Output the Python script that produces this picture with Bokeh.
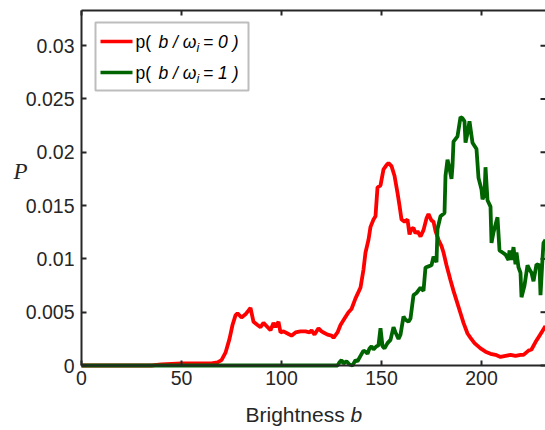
from bokeh.plotting import figure
from bokeh.models import (Range1d, LinearAxis, FixedTicker, Label, BoxAnnotation)
from bokeh.embed import file_html
from bokeh.resources import INLINE

# ---------------- data ----------------
red_x = [0, 35, 40, 50, 60, 65, 68, 70, 72, 74, 75.5, 77, 78, 80, 82, 84.5, 86, 88, 89.5,
         91, 92.5, 94.5, 96, 97, 98.5, 99.5, 101, 103, 105, 107, 109.5, 112, 114, 115,
         116.5, 118.5, 120, 121, 123, 125, 126, 128, 129.5, 131.5, 133.5, 135, 137, 139.5,
         141, 142, 143.5, 144.5, 146, 147, 148, 149.5, 151, 152.5, 153.5, 155, 156.5, 158,
         159, 160, 161.5, 163, 164, 165, 166, 167, 168, 169.5, 171, 172.5, 173.5, 175, 176,
         177, 178.5, 180, 181, 182.5, 184.5, 186, 188, 189.5, 191, 193, 194.5, 196.5, 199.5,
         202, 204.5, 207, 209.5, 212, 214.5, 217, 219.5, 221, 223.5, 225, 227, 229, 231, 232]
red_y = [0, 0, 0.0001, 0.0002, 0.0002, 0.0002, 0.0003, 0.0005, 0.0012, 0.0025, 0.0038,
         0.0047, 0.0049, 0.0045, 0.0048, 0.0054, 0.0041, 0.0038, 0.0036, 0.0040, 0.0037,
         0.0033, 0.0040, 0.0036, 0.0041, 0.0031, 0.0032, 0.0030, 0.0028, 0.0031, 0.0032,
         0.0032, 0.0031, 0.0033, 0.0029, 0.0035, 0.0032, 0.0031, 0.0029, 0.0028, 0.0026,
         0.0031, 0.0038, 0.0044, 0.0050, 0.0053, 0.0063, 0.0073, 0.0090, 0.0106, 0.0118,
         0.0130, 0.0137, 0.0140, 0.0167, 0.0169, 0.0184, 0.0188, 0.0190, 0.0187, 0.0178,
         0.0162, 0.0150, 0.0137, 0.0135, 0.0137, 0.0123, 0.0128, 0.0129, 0.0124, 0.0126,
         0.0121, 0.0127, 0.0138, 0.0142, 0.0136, 0.0135, 0.0126, 0.0118, 0.0112, 0.0106,
         0.0094, 0.0080, 0.0070, 0.0058, 0.0049, 0.0040, 0.0030, 0.0026, 0.0021, 0.0016,
         0.0013, 0.0011, 0.0010, 0.0008, 0.0009, 0.0010, 0.0009, 0.0010, 0.0010, 0.0014,
         0.0015, 0.0022, 0.0028, 0.0034, 0.0037]

green_x = [0, 128, 129, 130, 131, 132.5, 134, 135.5, 137, 138, 139.5, 141, 142, 143, 144,
           145, 146, 147.5, 148.5, 149.5, 150.5, 151.5, 153, 154.5, 156, 157, 158.5, 159.5,
           161, 162, 163.5, 164.5, 166, 167.5, 169.5, 171, 172, 173.5, 175, 176, 177.5, 178,
           179.5, 181.5, 182, 183, 184, 185, 185.5, 186, 188, 189.5, 190.5, 191.5, 192, 193,
           194, 195.5, 197.5, 198.5, 200, 200.5, 201.5, 202, 203, 204.5, 205, 206, 208, 209,
           210.5, 212, 213.5, 214, 215, 216, 217, 217.5, 218.5, 219.5, 220, 221.5, 223, 224,
           225, 226, 227.5, 229, 229.5, 230.5, 231, 232]
green_y = [0, 0, 0.0003, 0.0005, 0.0002, 0.0004, 0.0001, 0, 0.0005, 0.0004, 0.0009, 0.0014,
           0.0013, 0.0011, 0.0016, 0.0018, 0.0015, 0.0018, 0.0019, 0.0035, 0.0018, 0.0016,
           0.0021, 0.0024, 0.0036, 0.0031, 0.0025, 0.0029, 0.0046, 0.0043, 0.0041, 0.0044,
           0.0066, 0.0068, 0.0073, 0.0070, 0.0092, 0.0093, 0.0094, 0.0102, 0.0097, 0.0128,
           0.0140, 0.0143, 0.0178, 0.0193, 0.0185, 0.0175, 0.0187, 0.0210, 0.0215, 0.0233,
           0.0232, 0.0229, 0.0209, 0.0218, 0.0229, 0.0209, 0.0203, 0.0176, 0.0165, 0.0156,
           0.0160, 0.0186, 0.0155, 0.0149, 0.0115, 0.0125, 0.0139, 0.0108, 0.0106, 0.0104,
           0.0099, 0.0108, 0.0099, 0.0111, 0.0095, 0.0106, 0.0092, 0.0087, 0.0064, 0.0075,
           0.0094, 0.0090, 0.0087, 0.0079, 0.0095, 0.0094, 0.0066, 0.0100, 0.0115, 0.0118]

x_ticks = [0, 50, 100, 150, 200]
x_tick_labels = ["0", "50", "100", "150", "200"]
y_ticks = [0, 0.005, 0.01, 0.015, 0.02, 0.025, 0.03]
y_tick_labels = ["0", "0.005", "0.01", "0.015", "0.02", "0.025", "0.03"]

legend_labels = ["0", "1"]
x_label = "Brightness"
x_label_var = "b"
y_label = "P"

# ---------------- layout ----------------
# The frame covers the whole canvas; the axes are fixed at the data origin so that
# every text (axis titles, legend) lies inside the frame and is not clipped.
W, H = 545, 430
AXL, AXT, AXB = 81, 10, 365          # pixel positions of left / top / bottom axis lines
X0, X1 = 0, 232                      # visible data extent of the axes box
Y0, Y1 = 0, 0.0333
PX_PER_X = (W - AXL) / (X1 - X0)
PX_PER_Y = (AXB - AXT) / (Y1 - Y0)
XMIN, XMAX = X0 - AXL / PX_PER_X, X1
YMIN, YMAX = Y0 - (H - AXB) / PX_PER_Y, Y1 + AXT / PX_PER_Y
AX = "#262626"
FONT = "Liberation Sans"

p = figure(width=W, height=H, output_backend="svg", toolbar_location=None,
           x_range=Range1d(XMIN, XMAX), y_range=Range1d(YMIN, YMAX),
           min_border=0, x_axis_location=None, y_axis_location=None)
p.outline_line_color = None
p.grid.visible = False
p.background_fill_color = "white"
p.border_fill_color = "white"


def dx(px):
    return XMIN + px / PX_PER_X


def dy(py):
    return YMAX - py / PX_PER_Y


def style_axis(ax):
    ax.axis_line_color = AX
    ax.axis_line_width = 2
    ax.major_tick_line_color = AX
    ax.major_tick_line_width = 2
    ax.major_tick_in = 5
    ax.major_tick_out = 0
    ax.minor_tick_line_color = None
    ax.major_label_text_font = FONT
    ax.major_label_text_color = AX
    ax.major_label_text_font_size = "19.5px"


xb = LinearAxis(ticker=FixedTicker(ticks=x_ticks), fixed_location=Y0,
                bounds=(X0, X1),
                major_label_overrides=dict(zip(x_ticks, x_tick_labels)))
style_axis(xb)
xb.major_label_standoff = 5
p.add_layout(xb, "below")

yl = LinearAxis(ticker=FixedTicker(ticks=y_ticks), fixed_location=X0,
                bounds=(Y0, Y1),
                major_label_overrides=dict(zip(y_ticks, y_tick_labels)))
style_axis(yl)
yl.major_label_standoff = 7
p.add_layout(yl, "left")

# top border line and inward ticks on the top / right sides of the box
p.segment(x0=[X0], y0=[Y1], x1=[X1], y1=[Y1], line_color=AX, line_width=2)
p.segment(x0=x_ticks, y0=[Y1] * len(x_ticks), x1=x_ticks,
          y1=[Y1 - 5 / PX_PER_Y] * len(x_ticks), line_color=AX, line_width=2)
p.segment(x0=[X1] * len(y_ticks), y0=y_ticks, x1=[X1 - 5 / PX_PER_X] * len(y_ticks),
          y1=y_ticks, line_color=AX, line_width=2)

# ---------------- curves ----------------
p.line(red_x, red_y, line_color="#FF0000", line_width=3.8)
p.line(green_x, green_y, line_color="#006400", line_width=3.8)

# ---------------- legend (drawn manually for mixed italic / subscript) ----------------
p.add_layout(BoxAnnotation(left=dx(95), right=dx(248), top=dy(22), bottom=dy(90),
                           fill_color="white", fill_alpha=1, line_color=AX,
                           line_width=2, level="overlay"))
rows = [(41, "#FF0000"), (72, "#006400")]
for (ry, col), lab in zip(rows, legend_labels):
    p.add_layout(BoxAnnotation(left=dx(100), right=dx(132), top=dy(ry - 1.8),
                               bottom=dy(ry + 1.8), fill_color=col, fill_alpha=1,
                               line_color=None, level="overlay"))
    common = dict(text_font=FONT, text_color="black", text_baseline="middle",
                  text_align="left", level="overlay")
    p.add_layout(Label(x=dx(135), y=dy(ry), text="p(", text_font_size="17.5px", **common))
    p.add_layout(Label(x=dx(158), y=dy(ry), text="b / ω", text_font_size="17.5px",
                       text_font_style="italic", **common))
    p.add_layout(Label(x=dx(196), y=dy(ry + 6), text="i", text_font_size="12.5px",
                       text_font_style="italic", **common))
    p.add_layout(Label(x=dx(202.5), y=dy(ry), text="= " + lab + "  )",
                       text_font_size="17.5px", text_font_style="italic", **common))

# ---------------- axis titles ----------------
p.add_layout(Label(x=dx(245), y=dy(414), text=x_label, text_font=FONT,
                   text_font_size="21px", text_color=AX, text_baseline="middle",
                   text_align="left"))
p.add_layout(Label(x=dx(350), y=dy(414), text=x_label_var, text_font=FONT,
                   text_font_size="21px", text_font_style="italic", text_color=AX,
                   text_baseline="middle", text_align="left"))
p.add_layout(Label(x=dx(20), y=dy(171), text=y_label, text_font="Liberation Serif",
                   text_font_size="23px", text_font_style="italic", text_color=AX,
                   text_baseline="middle", text_align="center"))

open("out.html", "w").write(file_html(p, INLINE))
